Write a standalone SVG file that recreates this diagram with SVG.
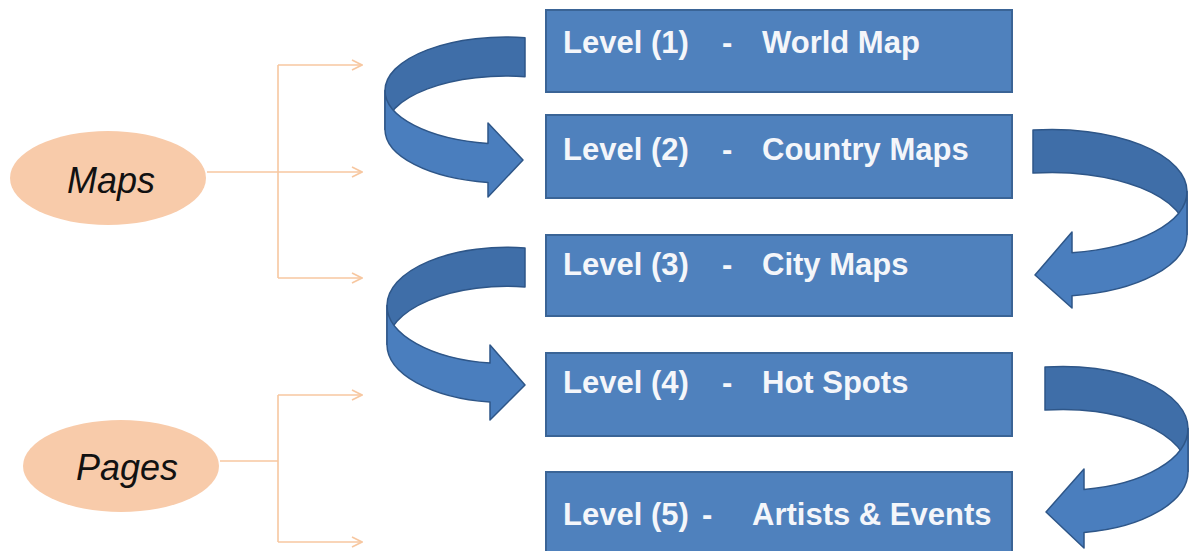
<svg xmlns="http://www.w3.org/2000/svg" width="1190" height="551" viewBox="0 0 1190 551">
<style>
.box{fill:#4F81BD;stroke:#3A6496;stroke-width:2}
.lbl{font-family:"Liberation Sans",Arial,sans-serif;font-weight:bold;font-size:31px;fill:#F4F6FA}
.ell{fill:#F8CBAA}
.etxt{font-family:"Liberation Sans",Arial,sans-serif;font-style:italic;font-size:36px;fill:#111}
.br{fill:none;stroke:#F7C7A0;stroke-width:1.6}
.back{fill:#3F6EA8;stroke:#2E5688;stroke-width:1.5;stroke-linejoin:round}
.front{fill:#4A7EBE;stroke:#2E5688;stroke-width:1.5;stroke-linejoin:round}
</style>
<defs>
<marker id="chev" viewBox="0 0 12 12" refX="11" refY="6" markerWidth="12" markerHeight="12" markerUnits="userSpaceOnUse" orient="auto">
<path d="M1,1 L11,6 L1,11" fill="none" stroke="#F7C7A0" stroke-width="1.6"/>
</marker>
</defs>
<rect width="1190" height="551" fill="#FFFFFF"/>
<g id="connectors">
<path class="br" d="M207,172 H278"/>
<path class="br" d="M278,65 V278"/>
<path class="br" d="M278,65 H362" marker-end="url(#chev)"/>
<path class="br" d="M278,172 H362" marker-end="url(#chev)"/>
<path class="br" d="M278,278 H362" marker-end="url(#chev)"/>
<path class="br" d="M220,461 H278"/>
<path class="br" d="M278,395 V542"/>
<path class="br" d="M278,395 H362" marker-end="url(#chev)"/>
<path class="br" d="M278,542 H362" marker-end="url(#chev)"/>
<g id="arrow-1-2">
<path class="back" d="M525,37.7 A121,53.5 0 0 0 385,90.5 L385,129.5 A121,53.5 0 0 1 525,76.7 Z"/>
<path class="front" d="M385,90.5 A121,53.5 0 0 0 488,143.4 L488,123 L523,160 L488,197 L488,182.4 A121,53.5 0 0 1 385,129.5 Z"/>
</g>
<g id="arrow-2-3">
<path class="back" d="M1033,130.1 A135,62 0 0 1 1187,191.5 L1187,234.5 A135,62 0 0 0 1033,173.1 Z"/>
<path class="front" d="M1187,191.5 A135,62 0 0 1 1072,252.8 L1072,232 L1035,275 L1072,308 L1072,295.8 A135,62 0 0 0 1187,234.5 Z"/>
</g>
<g id="arrow-3-4">
<path class="back" d="M525,248 A120,58.2 0 0 0 387,305.5 L387,344.5 A120,58.2 0 0 1 525,287 Z"/>
<path class="front" d="M387,305.5 A120,58.2 0 0 0 490,363.1 L490,345 L525,385 L490,420 L490,402.1 A120,58.2 0 0 1 387,344.5 Z"/>
</g>
<g id="arrow-4-5">
<path class="back" d="M1045,367.1 A125,62 0 0 1 1188,428.5 L1188,471.5 A125,62 0 0 0 1045,410.1 Z"/>
<path class="front" d="M1188,428.5 A125,62 0 0 1 1084,489.6 L1084,469 L1046,512 L1084,548 L1084,532.6 A125,62 0 0 0 1188,471.5 Z"/>
</g>
</g>
<g id="maps">
<ellipse class="ell" cx="108" cy="178" rx="98" ry="47"/>
<text class="etxt" x="111" y="193" text-anchor="middle">Maps</text>
</g>
<g id="pages">
<ellipse class="ell" cx="121" cy="466" rx="98" ry="46"/>
<text class="etxt" x="127" y="480" text-anchor="middle" font-size="35">Pages</text>
</g>
<g id="level1">
<rect class="box" x="546" y="10" width="466" height="82"/>
<text class="lbl" y="53"><tspan x="563">Level (1)</tspan><tspan x="722">-</tspan><tspan x="762">World Map</tspan></text>
</g>
<g id="level2">
<rect class="box" x="546" y="115" width="466" height="83"/>
<text class="lbl" y="160"><tspan x="563">Level (2)</tspan><tspan x="722">-</tspan><tspan x="762">Country Maps</tspan></text>
</g>
<g id="level3">
<rect class="box" x="546" y="235" width="466" height="81"/>
<text class="lbl" y="275"><tspan x="563">Level (3)</tspan><tspan x="722">-</tspan><tspan x="762">City Maps</tspan></text>
</g>
<g id="level4">
<rect class="box" x="546" y="353" width="466" height="83"/>
<text class="lbl" y="393"><tspan x="563">Level (4)</tspan><tspan x="722">-</tspan><tspan x="762">Hot Spots</tspan></text>
</g>
<g id="level5">
<rect class="box" x="546" y="472" width="466" height="84"/>
<text class="lbl" y="525"><tspan x="563">Level (5)</tspan><tspan x="702">-</tspan><tspan x="752">Artists &amp; Events</tspan></text>
</g>
</svg>
